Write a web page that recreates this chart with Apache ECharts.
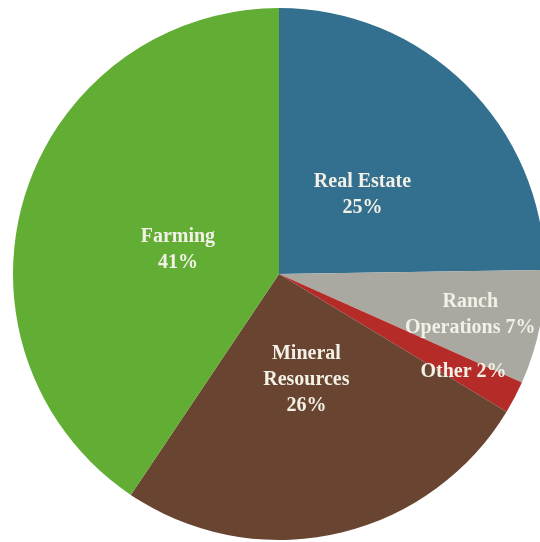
<!DOCTYPE html>
<html>
<head>
<meta charset="utf-8">
<script src="https://cdn.jsdelivr.net/npm/echarts@6/dist/echarts.min.js"></script>
<style>html,body{margin:0;padding:0;background:#fff}#c{width:540px;height:542px}</style>
</head>
<body>
<div id="c"></div>
<script>
const categories = ["Real Estate", "Ranch Operations", "Other", "Mineral Resources", "Farming"];
const values = [25, 7, 2, 26, 41];
const labelTexts = ["Real Estate\n25%", "Ranch\nOperations 7%", "Other 2%", "Mineral\nResources\n26%", "Farming\n41%"];
const colors = ["#336f8e", "#a9a9a1", "#b52b27", "#684431", "#62ae35"];
const offsets = [[-12, 18], [58, 14], [64, 35], [-2, -27], [29, 15]];

const chart = echarts.init(document.getElementById('c'));
chart.setOption({
  animation: false,
  series: [{
    type: 'pie',
    center: [279, 274],
    radius: [0, 266],
    startAngle: 90,
    clockwise: true,
    avoidLabelOverlap: false,
    label: {
      show: true,
      position: 'inside',
      color: '#f3f0e6',
      fontFamily: 'Liberation Serif',
      fontWeight: 'bold',
      fontSize: 20,
      lineHeight: 26
    },
    labelLine: { show: false },
    emphasis: { disabled: true },
    itemStyle: { borderWidth: 0 },
    data: categories.map((c, i) => ({
      name: c,
      value: values[i],
      itemStyle: { color: colors[i] },
      label: { formatter: labelTexts[i], offset: offsets[i] }
    }))
  }]
});
</script>
</body>
</html>
